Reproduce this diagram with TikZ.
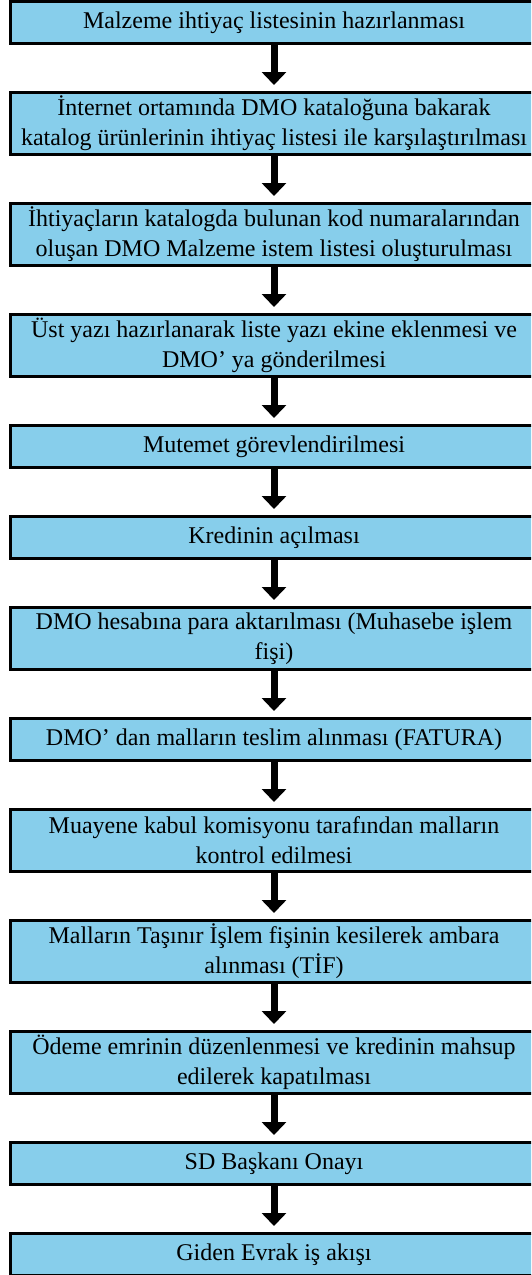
\documentclass[tikz,border=0pt]{standalone}
\usepackage{fontspec}
\setmainfont{Liberation Serif}
\usetikzlibrary{arrows.meta}
\definecolor{boxblue}{RGB}{135,206,235}
\tikzset{
  stepbox/.style={draw=black, line width=3pt, fill=boxblue, minimum width=527pt,
    inner sep=0pt, align=center, font=\fontsize{24}{30}\selectfont},
  onebox/.style={stepbox, minimum height=42pt},
  twobox/.style={stepbox, minimum height=62pt},
  flow/.style={line width=7pt, shorten >=6pt, -{Triangle[width=24pt,length=13pt]}}
}
\begin{document}
\begin{tikzpicture}[x=1pt,y=-1pt]
\useasboundingbox (0,0) rectangle (531,1275);
\clip (0,0) rectangle (531,1275);
\node[onebox] (b1) at (274,22.5) {Malzeme ihtiyaç listesinin hazırlanması};
\node[twobox] (b2) at (274,123.5) {İnternet ortamında DMO kataloğuna bakarak\\katalog ürünlerinin ihtiyaç listesi ile karşılaştırılması};
\node[twobox] (b3) at (274,234.5) {İhtiyaçların katalogda bulunan kod numaralarından\\oluşan DMO Malzeme istem listesi oluşturulması};
\node[twobox] (b4) at (274,345.5) {Üst yazı hazırlanarak liste yazı ekine eklenmesi ve\\DMO’ ya gönderilmesi};
\node[onebox] (b5) at (274,446.5) {Mutemet görevlendirilmesi};
\node[onebox] (b6) at (274,537.5) {Kredinin açılması};
\node[twobox] (b7) at (274,638.5) {DMO hesabına para aktarılması (Muhasebe işlem\\fişi)};
\node[onebox] (b8) at (274,739.5) {DMO’ dan malların teslim alınması (FATURA)};
\node[twobox] (b9) at (274,840.5) {Muayene kabul komisyonu tarafından malların\\kontrol edilmesi};
\node[twobox] (b10) at (274,951.5) {Malların Taşınır İşlem fişinin kesilerek ambara\\alınması (TİF)};
\node[twobox] (b11) at (274,1062.5) {Ödeme emrinin düzenlenmesi ve kredinin mahsup\\edilerek kapatılması};
\node[onebox] (b12) at (274,1163.5) {SD Başkanı Onayı};
\node[onebox] (b13) at (274,1254.5) {Giden Evrak iş akışı};
\foreach \a/\b in {b1/b2,b2/b3,b3/b4,b4/b5,b5/b6,b6/b7,b7/b8,b8/b9,b9/b10,b10/b11,b11/b12,b12/b13}
  \draw[flow] (\a.south) -- (\b.north);
\end{tikzpicture}
\end{document}
